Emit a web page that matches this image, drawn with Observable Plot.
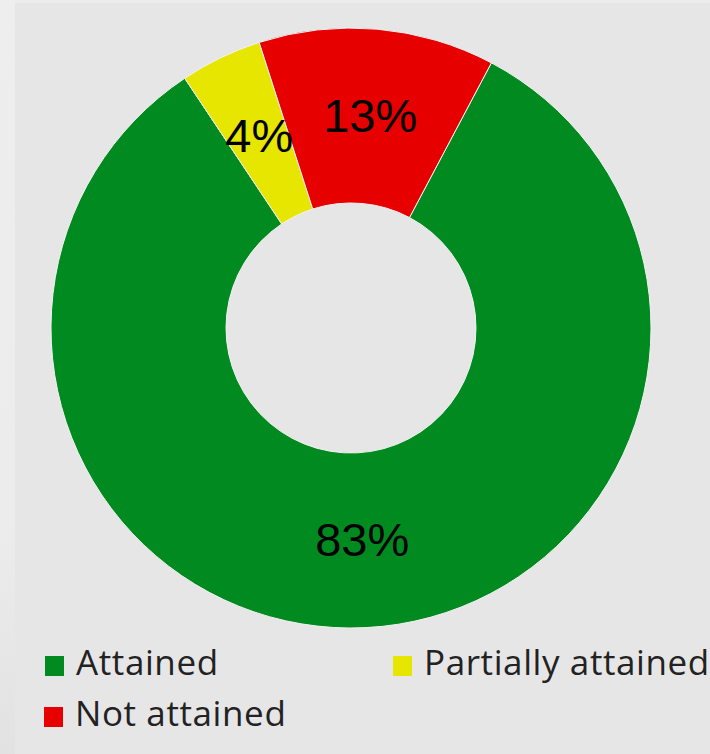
<!DOCTYPE html>
<html>
<head>
<meta charset="utf-8">
<script src="https://cdn.jsdelivr.net/npm/d3@7"></script>
<script src="https://cdn.jsdelivr.net/npm/@observablehq/plot@0.6"></script>
<style>
  html, body { margin: 0; padding: 0; }
  body { width: 710px; height: 754px; background: #ececec; position: relative; overflow: hidden; }
  #panel { position: absolute; left: 15px; top: 3px; width: 695px; height: 751px; background: #e6e6e6; }
  #strip { position: absolute; left: 0; top: 0; width: 15px; height: 754px;
           background: linear-gradient(to bottom, #eeeeee 0%, #ececec 70%, #e2e2e2 100%); }
  #chart { position: absolute; left: 0; top: 0; }
  .legend { position: absolute; font-family: "Open Sans", Roboto, sans-serif; font-size: 35px;
            color: #222; letter-spacing: 0.6px; white-space: nowrap; line-height: 1; }
  .legend .sw { display: inline-block; width: 19px; height: 20px; vertical-align: baseline;
                margin-right: 12px; position: relative; top: 1px; }
</style>
</head>
<body>
<div id="strip"></div>
<div id="panel"></div>
<div id="chart"></div>
<div class="legend" id="l0" style="left:45px; top:644px;"></div>
<div class="legend" id="l1" style="left:393px; top:644px;"></div>
<div class="legend" id="l2" style="left:44px; top:695px;"></div>
<script>
// Data
const categories = ["Attained", "Partially attained", "Not attained"];
const values = [82.9, 4.4, 12.7];
const labels = ["83%", "4%", "13%"];
const colors = ["#008a1f", "#e6e600", "#e60000"];

// geometry (style)
const W = 710, H = 640;
const cx = 351, cy = 328;
const outerR = 300, innerR = 125;
const startDeg = 27.9;

const data = categories.map((c, i) => ({category: c, value: values[i], label: labels[i], color: colors[i]}));
const pie = d3.pie().value(d => d.value).sort(null)
  .startAngle(startDeg * Math.PI / 180)
  .endAngle(startDeg * Math.PI / 180 + 2 * Math.PI);
const arcs = pie(data);
const arcGen = d3.arc().innerRadius(innerR).outerRadius(outerR);
const labelData = arcs.map(a => {
  const [x, y] = arcGen.centroid(a);
  return {x, y, label: a.data.label};
});

const chart = Plot.plot({
  width: W,
  height: H,
  margin: 0,
  style: {background: "transparent", overflow: "visible"},
  x: {domain: [-cx, W - cx], range: [0, W], axis: null},
  y: {domain: [-cy, H - cy], range: [0, H], axis: null},
  marks: [
    (index, scales) => {
      const g = d3.create("svg:g");
      const k = scales.x(1) - scales.x(0);
      const arcPx = d3.arc().innerRadius(innerR * k).outerRadius(outerR * k);
      g.attr("transform", `translate(${scales.x(0)},${scales.y(0)})`);
      g.selectAll("path").data(arcs).join("path")
        .attr("d", arcPx)
        .attr("fill", d => d.data.color)
        .attr("stroke", "#f2f2f2")
        .attr("stroke-width", 1);
      return g.node();
    },
    Plot.text(labelData, {
      x: "x", y: "y", text: "label",
      fontSize: 47, fill: "#000",
      fontFamily: "'Liberation Sans', Arial, sans-serif"
    })
  ]
});
document.getElementById("chart").appendChild(chart);

// Legend
[0, 1, 2].forEach(i => {
  const el = document.getElementById("l" + i);
  const sw = document.createElement("span");
  sw.className = "sw";
  sw.style.background = colors[i];
  el.appendChild(sw);
  el.appendChild(document.createTextNode(categories[i]));
});
</script>
</body>
</html>
